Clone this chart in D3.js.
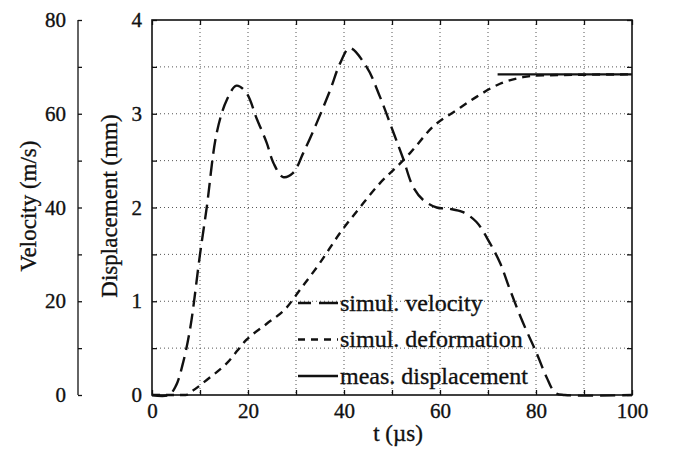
<!DOCTYPE html>
<html>
<head>
<meta charset="utf-8">
<script src="https://cdn.jsdelivr.net/npm/d3@7"></script>
<style>
  body { margin: 0; background: #fff; }
  text { font-family: "Liberation Serif", "DejaVu Serif", serif; fill: #111; stroke: #111; stroke-width: 0.35px; }
</style>
</head>
<body>
<svg id="chart" width="680" height="450"></svg>
<script>
// Data
var timeVel = [0, 3.5, 5, 6.5, 8, 10, 11.4, 13.5, 15.6, 17.6, 19.7, 21.8, 23.9, 25.3, 27.3, 29.4, 31.5, 34.3, 37.1, 39.2, 41.2, 44.7, 47.5, 50.3, 52.3, 54.4, 56.5, 59.3, 62.1, 64.8, 67.6, 70.4, 72.5, 74.6, 77.3, 80.1, 82.2, 84, 86, 100];
var velocity = [0, 0, 2, 7, 14.5, 30, 40, 56, 63, 66, 64.4, 59, 53.8, 49.5, 46.5, 47.4, 51.6, 58, 65, 70.8, 74, 70, 63.6, 56, 50.5, 44.4, 41.6, 40, 39.7, 39, 36.9, 32.4, 28.2, 22.4, 15.4, 9, 3.8, 0.5, 0, 0];

var timeDef = [0, 7, 8.6, 11.4, 15.6, 19.7, 23.9, 28, 30.8, 35, 39.2, 43.3, 47.5, 51.7, 53.75, 58.5, 63.5, 67.6, 72.5, 77.3, 81.5, 100];
var deformation = [0, 0, 0.05, 0.16, 0.34, 0.59, 0.76, 0.93, 1.12, 1.41, 1.73, 2.0, 2.26, 2.47, 2.58, 2.86, 3.04, 3.18, 3.32, 3.39, 3.41, 3.42];

var timeMeas = [72, 100];
var measured = [3.42, 3.42];

var timeTicks = [0, 20, 40, 60, 80, 100];
var dispTicks = [0, 1, 2, 3, 4];
var velTicks = [0, 20, 40, 60, 80];
var legendLabels = ["simul. velocity", "simul. deformation", "meas. displacement"];

// Layout
var m = { left: 152, right: 632, top: 20, bottom: 395 };

var svg = d3.select("#chart");

var x = d3.scaleLinear().domain([0, 100]).range([m.left, m.right]);
var yD = d3.scaleLinear().domain([0, 4]).range([m.bottom, m.top]);
var yV = d3.scaleLinear().domain([0, 80]).range([m.bottom, m.top]);

// Grid (dotted)
var grid = svg.append("g").attr("class", "grid")
  .style("stroke", "#555")
  .style("stroke-width", 1)
  .style("stroke-dasharray", "1,3");

grid.selectAll("line.gx")
  .data(d3.range(10, 100, 10))
  .enter().append("line")
  .attr("class", "gx")
  .attr("x1", function(d) { return x(d); })
  .attr("x2", function(d) { return x(d); })
  .attr("y1", m.top)
  .attr("y2", m.bottom);

grid.selectAll("line.gy")
  .data(d3.range(0.5, 4, 0.5))
  .enter().append("line")
  .attr("class", "gy")
  .attr("x1", m.left)
  .attr("x2", m.right)
  .attr("y1", function(d) { return yD(d); })
  .attr("y2", function(d) { return yD(d); });

// Axes with inward ticks
function styleAxis(g) {
  g.select(".domain").remove();
  g.selectAll(".tick line").style("stroke", "#111").style("stroke-width", 1.3);
  g.selectAll(".tick text")
    .style("font-family", "Liberation Serif, serif")
    .style("font-size", "21px")
    .style("fill", "#111");
}

svg.append("g")
  .attr("transform", translate(0, m.bottom))
  .call(d3.axisBottom(x).tickValues(d3.range(0, 101, 10)).tickSize(-5).tickPadding(8)
    .tickFormat(function(d) { return timeTicks.indexOf(d) >= 0 ? d : ""; }))
  .call(styleAxis);

svg.append("g")
  .attr("transform", translate(0, m.top))
  .call(d3.axisTop(x).tickValues(d3.range(0, 101, 10)).tickSize(-5).tickFormat(""))
  .call(styleAxis);

svg.append("g")
  .attr("transform", translate(m.left, 0))
  .call(d3.axisLeft(yD).tickValues(d3.range(0, 4.01, 0.5)).tickSize(-5).tickPadding(10)
    .tickFormat(function(d) { return dispTicks.indexOf(d) >= 0 ? d : ""; }))
  .call(styleAxis);

svg.append("g")
  .attr("transform", translate(m.right, 0))
  .call(d3.axisRight(yD).tickValues(d3.range(0, 4.01, 0.5)).tickSize(-5).tickFormat(""))
  .call(styleAxis);

// Velocity axis, offset to the left
var velAxis = svg.append("g")
  .attr("transform", translate(78, 0))
  .call(d3.axisLeft(yV).tickValues(d3.range(0, 81, 10)).tickSize(-4).tickPadding(12)
    .tickFormat(function(d) { return velTicks.indexOf(d) >= 0 ? d : ""; }))
  .call(styleAxis);

velAxis.append("line")
  .attr("y1", m.top).attr("y2", m.bottom)
  .style("stroke", "#111").style("stroke-width", 1.3);

// Frame
svg.append("rect")
  .attr("x", m.left).attr("y", m.top)
  .attr("width", m.right - m.left).attr("height", m.bottom - m.top)
  .style("fill", "none").style("stroke", "#111").style("stroke-width", 1.6);

// Curves
var lineVel = d3.line()
  .x(function(d, i) { return x(timeVel[i]); })
  .y(function(d) { return yV(d); })
  .curve(d3.curveCatmullRom);

var lineDef = d3.line()
  .x(function(d, i) { return x(timeDef[i]); })
  .y(function(d) { return yD(d); })
  .curve(d3.curveMonotoneX);

var lineMeas = d3.line()
  .x(function(d, i) { return x(timeMeas[i]); })
  .y(function(d) { return yD(d); });

var curves = svg.append("g").attr("class", "curves")
  .style("fill", "none").style("stroke", "#111").style("stroke-width", 2.4);

curves.append("path").attr("d", lineMeas(measured)).style("stroke-width", 2.2);
curves.append("path").attr("d", lineDef(deformation)).style("stroke-dasharray", "8,6");
curves.append("path").attr("d", lineVel(velocity)).style("stroke-dasharray", "15,7");

// Legend
var legendDash = ["13,8,6,0", "7,6", null];
var legend = svg.append("g").attr("transform", translate(298, 303));

legend.selectAll("g.entry")
  .data(legendLabels)
  .enter().append("g")
  .attr("class", "entry")
  .attr("transform", function(d, i) { return translate(0, i * 36.5); })
  .each(function(d, i) {
    var g = d3.select(this);
    g.append("line")
      .attr("x1", 0).attr("x2", 40).attr("y1", 0).attr("y2", 0)
      .style("stroke", "#111").style("stroke-width", 2.4)
      .style("stroke-dasharray", legendDash[i]);
    g.append("text")
      .attr("x", 42).attr("dy", "0.33em")
      .style("font-size", "24px")
      .text(d);
  });

// Axis titles
svg.append("text")
  .attr("transform", translate(398, 441))
  .style("text-anchor", "middle")
  .style("font-size", "23px")
  .text("t (\u00b5s)");

svg.append("text")
  .attr("transform", translate(36, 206) + " " + rotate(-90))
  .style("text-anchor", "middle")
  .style("font-size", "23px")
  .text("Velocity (m/s)");

svg.append("text")
  .attr("transform", translate(117, 206) + " " + rotate(-90))
  .style("text-anchor", "middle")
  .style("font-size", "23px")
  .text("Displacement (mm)");

function translate(a, b) {
  return "translate(" + a + " " + b + ")";
}

function rotate(a) {
  return "rotate(" + a + ")";
}
</script>
</body>
</html>
